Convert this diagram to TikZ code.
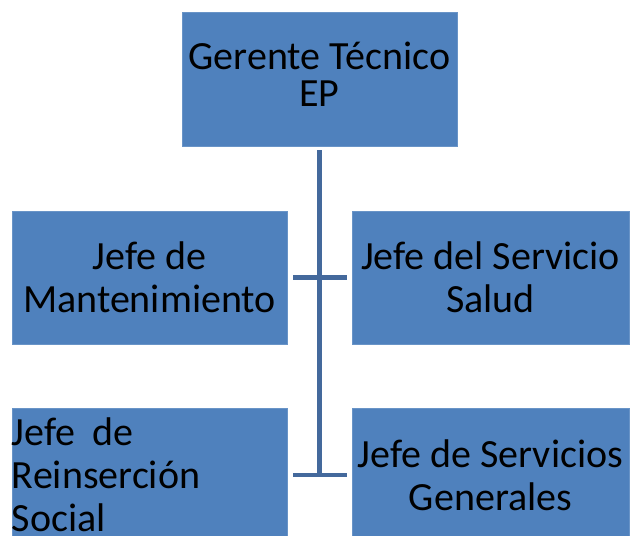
\documentclass[tikz,border=0pt]{standalone}
\usepackage{fontspec}
\setmainfont{Carlito}
\definecolor{boxblue}{HTML}{4F81BD}
\definecolor{lineblue}{HTML}{44699C}
\begin{document}
\begin{tikzpicture}[x=1pt,y=-1pt,
  orgbox/.style={fill=boxblue,draw=boxblue!85!white,line width=0.6pt,inner sep=0pt,
     minimum height=134pt,align=center,
     font=\fontsize{40}{43}\selectfont},
  conn/.style={draw=lineblue,line width=4.6pt}]
\useasboundingbox (0,0) rectangle (630,536);
\node[orgbox,minimum width=275pt,text depth=10pt,font=\fontsize{40}{37}\selectfont] (top) at (319.5,79) {Gerente Técnico\\EP};
\node[orgbox,minimum width=275pt,minimum height=133pt] (mant) at (149.5,277.5) {Jefe de\\Mantenimiento};
\node[orgbox,minimum width=277pt,minimum height=133pt] (salud) at (490.5,277.5) {Jefe del Servicio\\Salud};
\node[orgbox,minimum width=275pt,text width=275pt,align=left] (reins) at (149.5,475) {Jefe\hspace{17pt}de\\Reinserción\\Social};
\node[orgbox,minimum width=277pt] (gen) at (490.5,475) {Jefe de Servicios\\Generales};
\coordinate (j2) at (319.5,475);
\draw[conn,shorten <=4pt] (top.south) -- (j2);
\draw[conn,shorten <=6pt,shorten >=5pt] (mant.east) -- (salud.west);
\draw[conn,shorten <=6pt,shorten >=5pt] (reins.east) -- (gen.west);
\end{tikzpicture}
\end{document}
